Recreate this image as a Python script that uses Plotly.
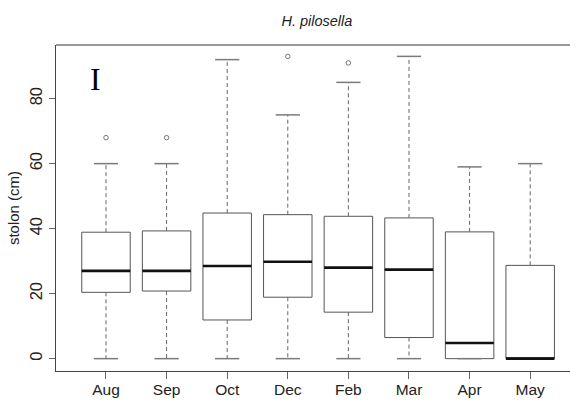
import plotly.graph_objects as go

months = ["Aug", "Sep", "Oct", "Dec", "Feb", "Mar", "Apr", "May"]
lower = [0, 0, 0, 0, 0, 0, 0, 0]
q1 = [20.4, 20.8, 11.9, 18.9, 14.3, 6.5, 0, 0]
median = [27, 27, 28.5, 29.8, 28, 27.4, 4.8, 0]
q3 = [38.9, 39.3, 44.8, 44.3, 43.8, 43.3, 39, 28.7]
upper = [60, 60, 92, 75, 85, 93, 59, 60]
outlier_month = ["Aug", "Sep", "Dec", "Feb"]
outlier_value = [68, 68, 93, 91]

title_text = "H. pilosella"
y_title = "stolon (cm)"
y_ticks = [0, 20, 40, 60, 80]
panel_label = "I"

pos = list(range(len(months)))
box_w = 0.8
staple_half = box_w / 4

fig = go.Figure()

# dashed whiskers
wx, wy = [], []
for i in pos:
    wx += [i, i, None, i, i, None]
    wy += [q3[i], upper[i], None, q1[i], lower[i], None]
fig.add_trace(go.Scatter(x=wx, y=wy, mode="lines",
                         line=dict(color="#666666", width=1, dash="4px,3px"),
                         hoverinfo="skip", showlegend=False))

# boxes
fig.add_trace(go.Box(x=pos, q1=q1, median=median, q3=q3,
                     lowerfence=q1, upperfence=q3,
                     width=box_w, whiskerwidth=0,
                     fillcolor="white", line=dict(color="#555555", width=1),
                     boxpoints=False, hoverinfo="skip", showlegend=False))

# staples
sx, sy = [], []
for i in pos:
    sx += [i - staple_half, i + staple_half, None, i - staple_half, i + staple_half, None]
    sy += [upper[i], upper[i], None, lower[i], lower[i], None]
fig.add_trace(go.Scatter(x=sx, y=sy, mode="lines",
                         line=dict(color="#7a7a7a", width=1.5),
                         hoverinfo="skip", showlegend=False))

# medians
mx, my = [], []
for i in pos:
    mx += [i - box_w / 2, i + box_w / 2, None]
    my += [median[i], median[i], None]
fig.add_trace(go.Scatter(x=mx, y=my, mode="lines",
                         line=dict(color="#111111", width=2.6),
                         hoverinfo="skip", showlegend=False))

# outliers
ox = [months.index(m) for m in outlier_month]
fig.add_trace(go.Scatter(x=ox, y=outlier_value, mode="markers",
                         marker=dict(symbol="circle-open", size=4.5,
                                     color="#777777", line=dict(width=1)),
                         hoverinfo="skip", showlegend=False))

fig.update_layout(
    width=570, height=406,
    margin=dict(l=56, r=0, t=45, b=35),
    paper_bgcolor="white", plot_bgcolor="white",
    font=dict(family="Liberation Sans, Arial, sans-serif", color="#222222"),
    title=dict(text="<i>" + title_text + "</i>", x=0.556, xanchor="center",
               y=1 - 21 / 406, yanchor="middle",
               font=dict(size=14.5, color="#222222")),
    xaxis=dict(range=[-0.825, 7.657], tickmode="array", tickvals=pos,
               ticktext=months, showgrid=False, zeroline=False,
               showline=True, linecolor="#444444", linewidth=1.3,
               ticks="outside", ticklen=7, tickcolor="#666666",
               ticklabelstandoff=-3,
               tickfont=dict(size=15.5, color="#222222")),
    yaxis=dict(range=[-3.8, 96.5], tickmode="array", tickvals=y_ticks,
               ticktext=[str(v) for v in y_ticks], tickangle=-90,
               showgrid=False, zeroline=False,
               showline=True, linecolor="#444444", linewidth=1.3,
               ticks="outside", ticklen=6, tickcolor="#666666",
               tickfont=dict(size=16.5, color="#222222"),
               title=dict(text=y_title, standoff=4,
                          font=dict(size=15, color="#222222"))),
    shapes=[dict(type="line", xref="paper", yref="paper", x0=0, x1=1,
                 y0=1, y1=1, line=dict(color="#999999", width=2))],
    annotations=[dict(text=panel_label, xref="paper", yref="paper",
                      x=(95 - 56) / 514, y=(371 - 79) / 326,
                      xanchor="center", yanchor="middle", showarrow=False,
                      font=dict(family="Liberation Serif, Times New Roman, serif",
                                size=32, color="#000000"))],
)

fig.write_html("out.html")
